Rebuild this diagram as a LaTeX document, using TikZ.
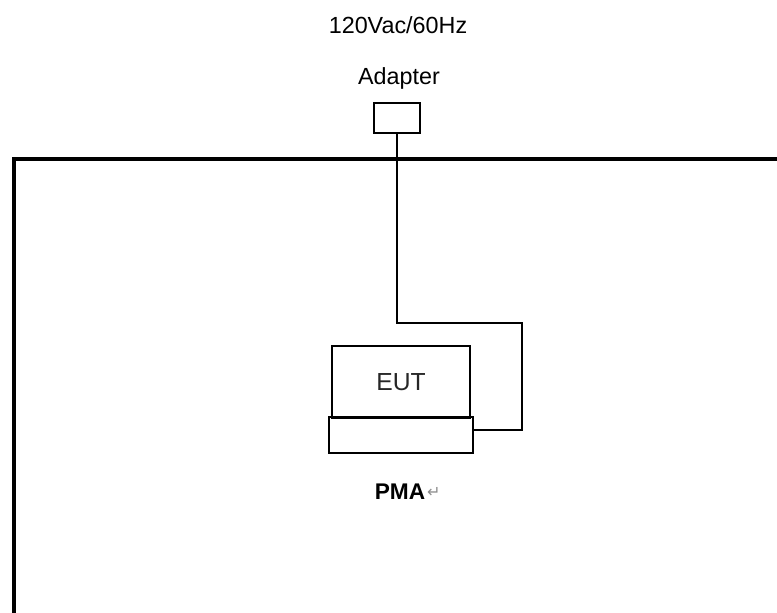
\documentclass[tikz,border=0pt]{standalone}
\usepackage{fontspec}
\setmainfont{Liberation Sans}
\newfontfamily\symfont{DejaVu Sans}
\usetikzlibrary{positioning}

\begin{document}
\begin{tikzpicture}[x=0.75pt,y=-0.75pt,line join=miter,
  box/.style={draw,line width=1.5pt,inner sep=0pt},
  cable/.style={line width=1.2pt},
  frame/.style={line width=3pt},
  label/.style={inner sep=0pt,font=\fontsize{17.5}{17.5}\selectfont}]
  \useasboundingbox (0,0) rectangle (777,613);
  % --- shielded room wall ---
  \draw[frame] (14,613) -- (14,159) -- (777,159);
  % --- supply and adapter ---
  \node[label] (mains) at (398,25) {120Vac/60Hz};
  \node[label] (adaptlbl) at (399,78) {Adapter};
  \node[box,minimum width=35pt,minimum height=22pt] (adapter) at (397,118) {};
  % --- EUT on the PMA ---
  \node[box,minimum width=103.5pt,minimum height=54pt,
        font=\fontsize{18.5}{18.5}\selectfont,text=black!85] (eut) at (401,382) {EUT};
  \node[box,minimum width=108pt,minimum height=27pt] (pma) at (401,435) {};
  \node[label,font=\fontsize{17}{17}\selectfont\bfseries] (pmalbl) at (400,492) {PMA};
  \node[inner sep=0pt,right=1pt of pmalbl,text=black!45,
        font=\symfont\fontsize{12}{12}\selectfont] (mark) {↵};
  % --- cable ---
  \coordinate (bend) at (522,323);
  \coordinate (plug) at (pma.east |- 0,430);
  \draw[cable] (adapter.south) |- (bend) |- (plug);
\end{tikzpicture}
\end{document}
